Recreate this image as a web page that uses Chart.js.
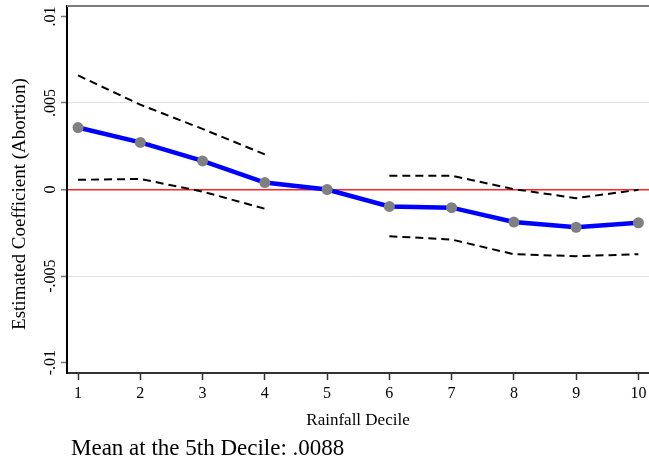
<!DOCTYPE html>
<html lang="en">
<head>
  <meta charset="UTF-8">
  <title>Rainfall Decile</title>
  <script src="https://cdn.jsdelivr.net/npm/chart.js"></script>
  <style>
    body { margin: 0; background: #fff; }
    #wrap { width: 649px; height: 462px; }
  </style>
</head>
<body>

<div id="wrap"><canvas id="chart" width="649" height="462"></canvas></div>

<script>
// data
const deciles = [1, 2, 3, 4, 5, 6, 7, 8, 9, 10];
const coef  = [0.00358, 0.00272, 0.00165, 0.00040, 0, -0.00098, -0.00105, -0.00188, -0.00218, -0.00192];
const upper = [0.00659, 0.00490, 0.00350, 0.00203, null, 0.00080, 0.00080, 0.00002, -0.00050, -0.00002];
const lower = [0.00056, 0.00061, -0.00012, -0.00111, null, -0.00270, -0.00289, -0.00374, -0.00385, -0.00374];
const yTicks = [-0.01, -0.005, 0, 0.005, 0.01];

const serif = "'Liberation Serif', 'DejaVu Serif', serif";
const pts = arr => arr.map((v, i) => ({ x: deciles[i], y: v }));
const fmt = v => String(v).replace(/^(-?)0\./, '$1.');

// texts that Chart.js can't place the way Stata does
const extras = {
  id: 'extras',
  afterDraw(chart) {
    const ctx = chart.ctx, a = chart.chartArea, y = chart.scales.y;
    ctx.save();
    // top frame line
    ctx.strokeStyle = '#7a7a7a';
    ctx.lineWidth = 2;
    ctx.beginPath();
    ctx.moveTo(a.left, a.top);
    ctx.lineTo(a.right, a.top);
    ctx.stroke();

    ctx.fillStyle = '#000';
    // rotated y tick labels
    ctx.font = '16px ' + serif;
    ctx.textAlign = 'center';
    ctx.textBaseline = 'alphabetic';
    yTicks.forEach(v => {
      ctx.save();
      ctx.translate(55, y.getPixelForValue(v));
      ctx.rotate(-Math.PI / 2);
      ctx.fillText(fmt(v), 0, 0);
      ctx.restore();
    });
    // y title
    ctx.save();
    ctx.font = '19px ' + serif;
    ctx.translate(25, 204);
    ctx.rotate(-Math.PI / 2);
    ctx.fillText('Estimated Coefficient (Abortion)', 0, 0);
    ctx.restore();
    // x title
    ctx.font = '17px ' + serif;
    ctx.fillText('Rainfall Decile', (a.left + a.right) / 2, 425);
    // note
    ctx.font = '23px ' + serif;
    ctx.textAlign = 'left';
    ctx.fillText('Mean at the 5th Decile: .0088', 71, 455);
    ctx.restore();
  }
};

new Chart(document.getElementById('chart'), {
  type: 'line',
  data: {
    datasets: [
      {
        label: 'Coefficient',
        data: pts(coef),
        borderColor: '#0000ff',
        borderWidth: 4.5,
        pointRadius: 5.5,
        pointBackgroundColor: '#808080',
        pointBorderWidth: 0,
        tension: 0
      },
      {
        label: 'Upper',
        data: pts(upper),
        borderColor: '#000',
        borderWidth: 2,
        borderDash: [8, 5],
        pointRadius: 0,
        spanGaps: false
      },
      {
        label: 'Lower',
        data: pts(lower),
        borderColor: '#000',
        borderWidth: 2,
        borderDash: [8, 5],
        pointRadius: 0,
        spanGaps: false
      }
    ]
  },
  options: {
    responsive: false,
    animation: false,
    layout: { autoPadding: false, padding: { top: 6, left: 0, right: 0, bottom: 0 } },
    plugins: { legend: { display: false }, tooltip: { enabled: false } },
    scales: {
      x: {
        type: 'linear',
        min: 0.823,
        max: 10.17,
        afterFit: s => { s.height = 89; s.paddingLeft = 0; s.paddingRight = 0; },
        border: { color: '#333', width: 2 },
        grid: { drawOnChartArea: false, tickLength: 7, tickColor: '#333', tickWidth: 1.5 },
        ticks: {
          stepSize: 1,
          includeBounds: false,
          padding: 4,
          color: '#000',
          font: { family: serif, size: 16 },
          maxRotation: 0
        }
      },
      y: {
        min: -0.0106,
        max: 0.0106,
        afterFit: s => { s.width = 67; s.paddingTop = 0; s.paddingBottom = 0; },
        border: { color: '#000', width: 2 },
        grid: {
          color: c => Math.abs(c.tick.value) < 1e-9 ? '#ff2222'
            : (Math.abs(Math.abs(c.tick.value) - 0.005) < 1e-9 ? '#e2e2e2' : 'rgba(0,0,0,0)'),
          lineWidth: c => Math.abs(c.tick.value) < 1e-9 ? 1.5 : 1,
          tickColor: '#777',
          tickLength: 6,
          tickWidth: 1.5
        },
        ticks: { stepSize: 0.005, includeBounds: false, display: false }
      }
    }
  },
  plugins: [extras]
});
</script>

</body>
</html>
